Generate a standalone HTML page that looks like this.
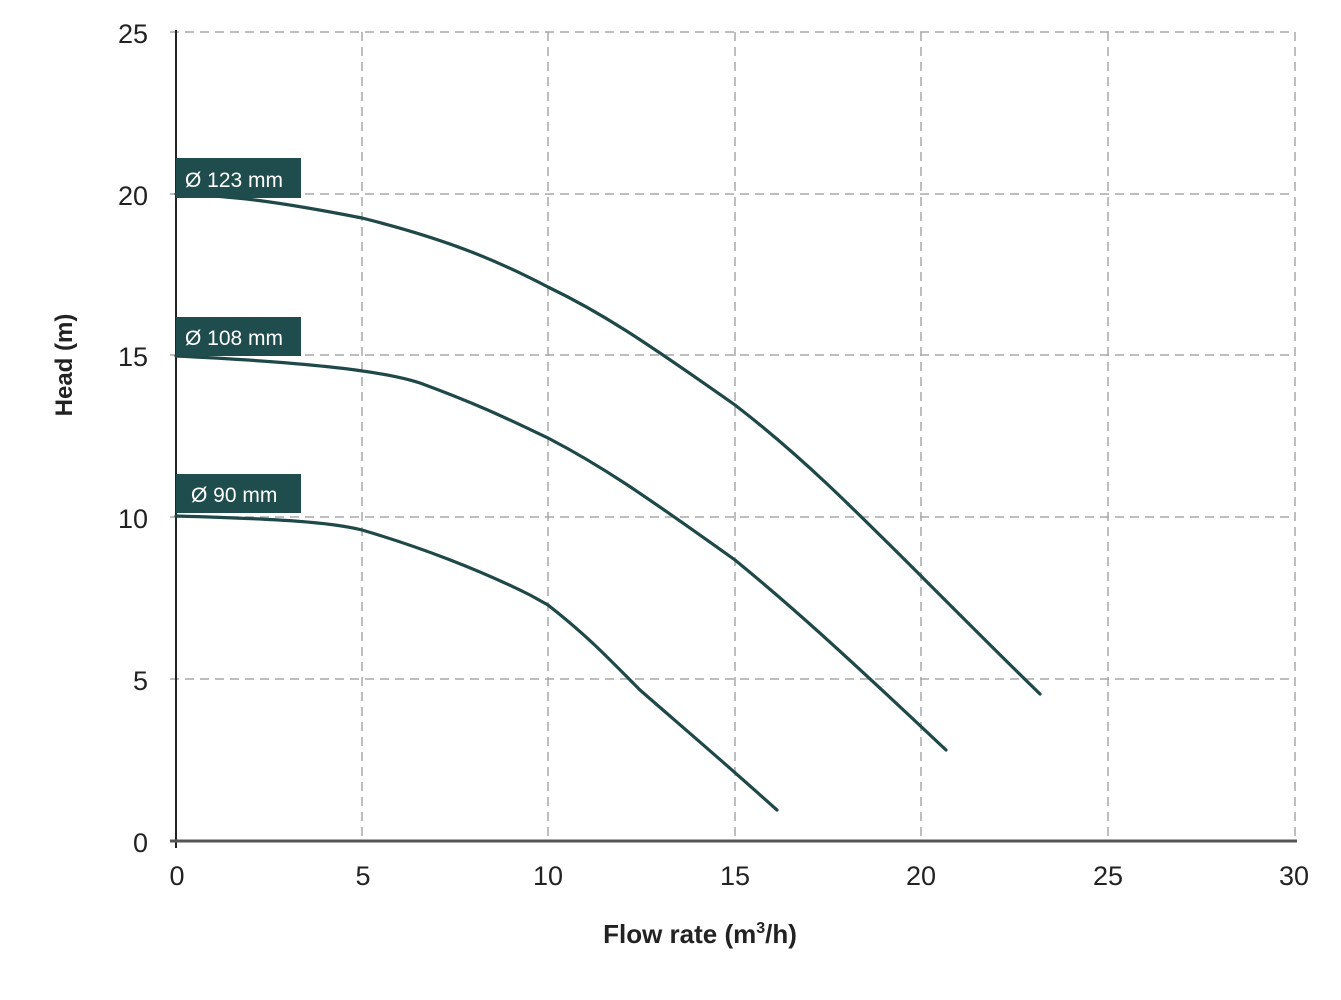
<!DOCTYPE html>
<html><head><style>body{margin:0;background:#fff}svg{display:block}</style></head><body>
<svg width="1341" height="1000" xmlns="http://www.w3.org/2000/svg" font-family="Liberation Sans, sans-serif">
<g stroke="#a8a8a8" stroke-width="1.5" stroke-dasharray="9,6">
<line x1="362" y1="32" x2="362" y2="841"/><line x1="548" y1="32" x2="548" y2="841"/><line x1="735" y1="32" x2="735" y2="841"/><line x1="921" y1="32" x2="921" y2="841"/><line x1="1108" y1="32" x2="1108" y2="841"/><line x1="1295" y1="32" x2="1295" y2="841"/>
<line x1="170" y1="32" x2="1295" y2="32"/><line x1="170" y1="194" x2="1295" y2="194"/><line x1="170" y1="355" x2="1295" y2="355"/><line x1="170" y1="517" x2="1295" y2="517"/><line x1="170" y1="679" x2="1295" y2="679"/>
</g>
<line x1="176" y1="30" x2="176" y2="848" stroke="#222" stroke-width="2"/>
<line x1="170" y1="841" x2="1297" y2="841" stroke="#555" stroke-width="3"/>
<g font-size="27" fill="#222" text-anchor="end">
<text x="148" y="43">25</text><text x="148" y="205">20</text><text x="148" y="366">15</text><text x="148" y="528">10</text><text x="148" y="690">5</text><text x="148" y="852">0</text>
</g>
<g font-size="27" fill="#222" text-anchor="middle">
<text x="177" y="885">0</text><text x="363" y="885">5</text><text x="548" y="885">10</text><text x="735" y="885">15</text><text x="921" y="885">20</text><text x="1108" y="885">25</text><text x="1294" y="885">30</text>
</g>
<text x="700" y="943" font-size="26" font-weight="bold" fill="#222" text-anchor="middle">Flow rate (m<tspan font-size="16" dy="-10">3</tspan><tspan dy="10">/h)</tspan></text>
<text transform="translate(72,365) rotate(-90)" font-size="24" font-weight="bold" fill="#222" text-anchor="middle">Head (m)</text>
<g fill="none" stroke="#1f4848" stroke-width="3.2" stroke-linecap="round" stroke-linejoin="round">
<path d="M176,194 C230,196 270,200 362,218 C450,240 500,262 548,287 C600,312 640,338 735,405 C800,455 850,505 930,585 C980,635 1010,665 1040,694"/>
<path d="M176,356 C300,362 380,370 420,383 C480,405 510,420 548,438 C600,465 640,492 735,560 C790,605 840,650 946,750"/>
<path d="M176,516 C280,519 330,522 362,530 C420,547 480,570 530,595 L548,605 C590,638 610,660 640,690 C680,725 710,750 777,810"/>
</g>
<g fill="#1f4c4c">
<rect x="176" y="158" width="125" height="40"/><rect x="176" y="317" width="125" height="39"/><rect x="176" y="474" width="125" height="39"/>
</g>
<g font-size="21" fill="#fff">
<text x="185" y="187">Ø 123 mm</text><text x="185" y="345">Ø 108 mm</text><text x="191" y="502">Ø 90 mm</text>
</g>
</svg>
</body></html>
